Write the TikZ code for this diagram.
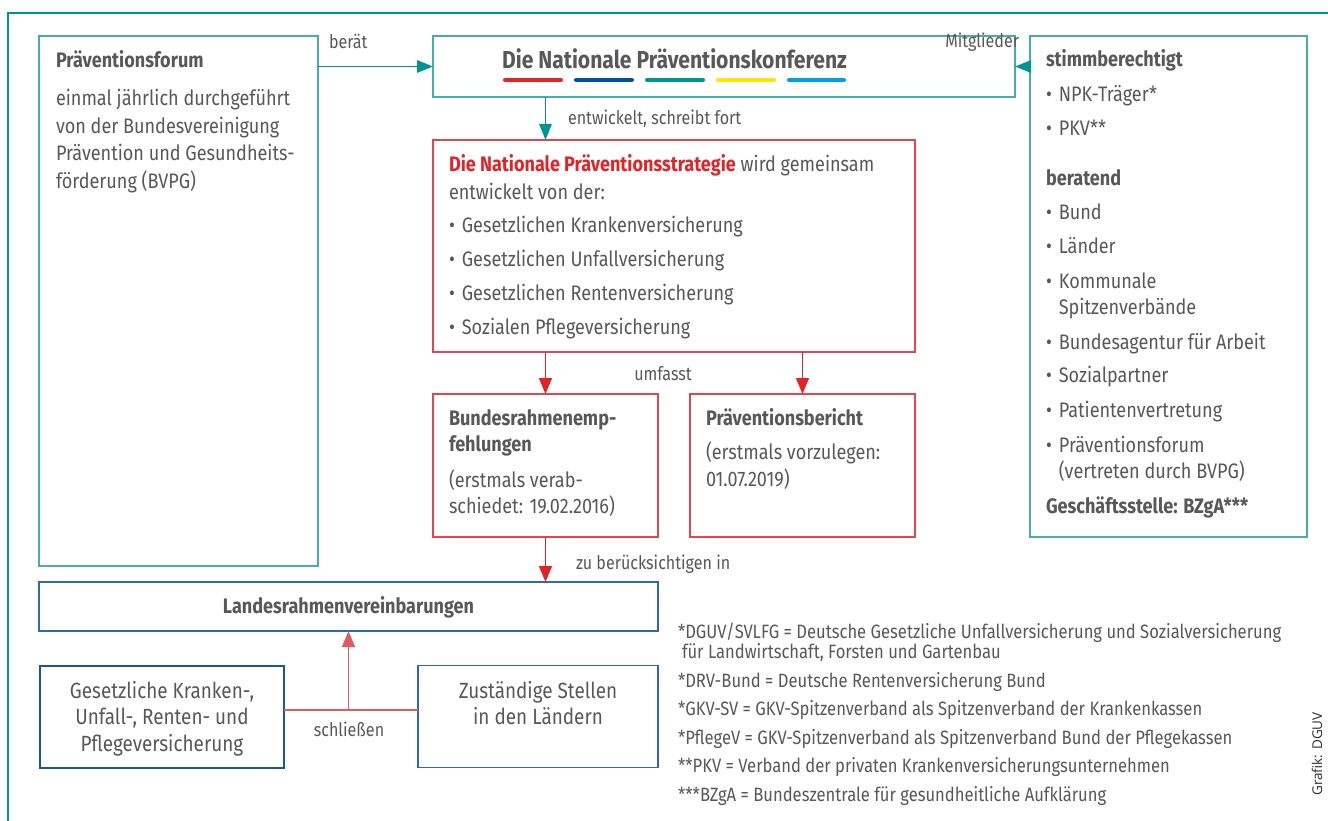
\documentclass[tikz,border=0pt]{standalone}
\usepackage{fontspec}
\setmainfont{Fira Sans}[FakeStretch=0.86]
\newfontfamily\creditfont{Open Sans}
\usetikzlibrary{arrows.meta}
\definecolor{tealc}{RGB}{0,150,143}
\definecolor{tealbox}{RGB}{70,175,170}
\definecolor{redc}{RGB}{226,35,40}
\definecolor{redbox}{RGB}{226,70,78}
\definecolor{redline}{RGB}{226,90,98}
\definecolor{bluec}{RGB}{0,82,155}
\definecolor{bluebox}{RGB}{45,105,175}
\definecolor{blueboxdark}{RGB}{25,85,160}
\definecolor{yellowc}{RGB}{255,229,0}
\definecolor{lightbluec}{RGB}{0,160,226}
\definecolor{textc}{RGB}{88,88,90}
\definecolor{creditc}{RGB}{45,45,47}
\newcommand{\lblock}[1]{\begin{tabular}[t]{@{}l@{}}#1\end{tabular}}
\newcommand{\cblock}[1]{\begin{tabular}[t]{@{}c@{}}#1\end{tabular}}
\newcommand{\bul}{•\hspace{7pt}}
\begin{document}
\begin{tikzpicture}[x=1pt,y=-1pt,
  every node/.style={inner sep=0pt, outer sep=0pt, text=textc},
  tbox/.style={draw=tealbox, line width=1.4pt},
  rbox/.style={draw=redbox, line width=1.4pt},
  bbox/.style={draw=bluebox, line width=1.3pt},
  bboxdark/.style={draw=blueboxdark, line width=2pt},
  tarrow/.style={draw=tealc, line width=1.4pt, -{Triangle[length=16pt,width=12.5pt]}},
  rarrow/.style={draw=redc, line width=1.4pt, -{Triangle[length=16pt,width=13pt]}},
  txt/.style={anchor=base west, font=\fontsize{21}{27.5}\selectfont},
  lbl/.style={anchor=base west, font=\fontsize{18.7}{22}\selectfont},
  note/.style={anchor=base west, font=\fontsize{19.3}{19.5}\selectfont},
  bar/.style={line width=4.6pt, line cap=round}
]
\useasboundingbox (0,0) rectangle (1328,821);
% outer frame
\draw[tealc, line width=2.2pt] (8,821) -- (8,13) -- (1328,13);

% boxes
\node[tbox, minimum width=279pt, minimum height=530pt] (forum) at (178.5,301) {};
\node[tbox, minimum width=582pt, minimum height=61pt] (npk) at (724,66.5) {};
\node[tbox, minimum width=277pt, minimum height=501pt] (mitgl) at (1168.5,286.5) {};
\node[rbox, minimum width=482pt, minimum height=212pt] (strat) at (674,246) {};
\node[rbox, minimum width=225pt, minimum height=143pt] (bundesr) at (545.5,465.5) {};
\node[rbox, minimum width=225pt, minimum height=143pt] (bericht) at (802.5,465.5) {};
\node[bbox, minimum width=619pt, minimum height=49pt] (landes) at (348.5,606.5) {};
\node[bboxdark, minimum width=244pt, minimum height=102pt] (kassen) at (162,716.5) {};
\node[bbox, minimum width=240pt, minimum height=102pt] (stellen) at (538,716.5) {};

% Praeventionsforum text
\node[txt] (forumtitle) at (56,68) {\textbf{Präventionsforum}};
\node[txt] (forumbody) at (56,106) {\lblock{einmal jährlich durchgeführt\\von der Bundesvereinigung\\Prävention und Gesundheits-\\förderung (BVPG)}};

% NPK title and bars
\node[anchor=base, font=\fontsize{24.5}{28}\selectfont\bfseries] (npktitle) at (674.5,69) {Die Nationale Präventionskonferenz};
\draw[bar, redc] (505.3,80) -- (560.7,80);
\draw[bar, bluec] (576.3,80) -- (631.7,80);
\draw[bar, tealc] (647.3,80) -- (702.7,80);
\draw[bar, yellowc] (718.3,80) -- (773.7,80);
\draw[bar, lightbluec] (789.3,80) -- (843.7,80);

% arrows top
\draw[tarrow] (npk.west -| forum.east) -- (npk.west);
\node[lbl] (beraet) at (329,49) {berät};
\draw[tarrow] (npk.east -| mitgl.west) -- (npk.east);
\node[lbl, anchor=base east] (mitglieder) at (1019,48) {Mitglieder};
\draw[tarrow] (bundesr.north |- npk.south) -- (bundesr.north |- strat.north);
\node[lbl] (entw) at (568,125) {entwickelt, schreibt fort};

% Mitglieder box text
\node[txt, font=\fontsize{21}{26.5}\selectfont] (mitgltext) at (1046,66.7) {\lblock{\textbf{stimmberechtigt}\\[8pt]
\bul NPK-Träger*\\[7.5pt]
\bul PKV**\\[23.5pt]
\textbf{beratend}\\[7.5pt]
\bul Bund\\[7.8pt]
\bul Länder\\[8.5pt]
\bul Kommunale\\
\phantom{\bul}Spitzenverbände\\[7.8pt]
\bul Bundesagentur für Arbeit\\[7pt]
\bul Sozialpartner\\[8.6pt]
\bul Patientenvertretung\\[8pt]
\bul Präventionsforum\\
\phantom{\bul}(vertreten durch BVPG)\\[7.8pt]
\textbf{Geschäftsstelle: BZgA***}}};

% Strategie text
\node[txt] (strattitle) at (449,172) {\lblock{{\color{redc}\textbf{Die Nationale Präventionsstrategie}} wird gemeinsam\\entwickelt von der:}};
\node[txt, font=\fontsize{21}{34}\selectfont] (stratlist) at (449,233) {\lblock{\bul Gesetzlichen Krankenversicherung\\\bul Gesetzlichen Unfallversicherung\\\bul Gesetzlichen Rentenversicherung\\\bul Sozialen Pflegeversicherung}};

% strategie -> boxes
\draw[rarrow] (bundesr.north |- strat.south) -- (bundesr.north);
\draw[rarrow] (bericht.north |- strat.south) -- (bericht.north);
\node[lbl, anchor=base] (umfasst) at (663,380) {umfasst};

\node[txt, font=\fontsize{21}{26.7}\selectfont] (bundesrtitle) at (449,425) {\lblock{\textbf{Bundesrahmenemp-}\\\textbf{fehlungen}}};
\node[txt, font=\fontsize{21}{26.3}\selectfont] (bundesrbody) at (449,487) {\lblock{(erstmals verab-\\schiedet: 19.02.2016)}};
\node[txt] (berichttitle) at (706,425) {\textbf{Präventionsbericht}};
\node[txt, font=\fontsize{21}{27.5}\selectfont] (berichtbody) at (706,459) {\lblock{(erstmals vorzulegen:\\01.07.2019)}};

\draw[rarrow] (bundesr.south) -- (bundesr.south |- landes.north);
\node[lbl] (zuber) at (576,569) {zu berücksichtigen in};

% Landes
\node[anchor=base, font=\fontsize{21}{24}\selectfont\bfseries] (landestitle) at (348.5,613) {Landesrahmenvereinbarungen};
\node[anchor=base, font=\fontsize{22}{26.7}\selectfont] (kassentext) at (162,698) {\cblock{Gesetzliche Kranken-,\\Unfall-, Renten- und\\Pflegeversicherung}};
\node[anchor=base, font=\fontsize{22}{26.7}\selectfont] (stellentext) at (538,698) {\cblock{Zuständige Stellen\\in den Ländern}};

\coordinate (junc) at (348.5,710);
\draw[draw=redline, line width=1.6pt] (kassen.east |- junc) -- (stellen.west |- junc);
\draw[rarrow, draw=redline] (junc) -- (junc |- landes.south);
\node[lbl, anchor=base] (schliessen) at (349,736) {schließen};

% footnotes
\node[note] (fn1) at (678,638) {\lblock{*DGUV/SVLFG = Deutsche Gesetzliche Unfallversicherung und Sozialversicherung\\\hspace{4pt}für Landwirtschaft, Forsten und Gartenbau}};
\node[note, font=\fontsize{19.3}{28.6}\selectfont] (fn2) at (678,687) {\lblock{*DRV-Bund = Deutsche Rentenversicherung Bund\\{}*GKV-SV = GKV-Spitzenverband als Spitzenverband der Krankenkassen\\{}*PflegeV = GKV-Spitzenverband als Spitzenverband Bund der Pflegekassen\\{}**PKV = Verband der privaten Krankenversicherungsunternehmen\\{}***BZgA = Bundeszentrale für gesundheitliche Aufklärung}};

\node[rotate=90, font=\creditfont\fontsize{13.5}{15}\selectfont, anchor=base, text=creditc] (credit) at (1322,754) {Grafik: DGUV};
\end{tikzpicture}
\end{document}
